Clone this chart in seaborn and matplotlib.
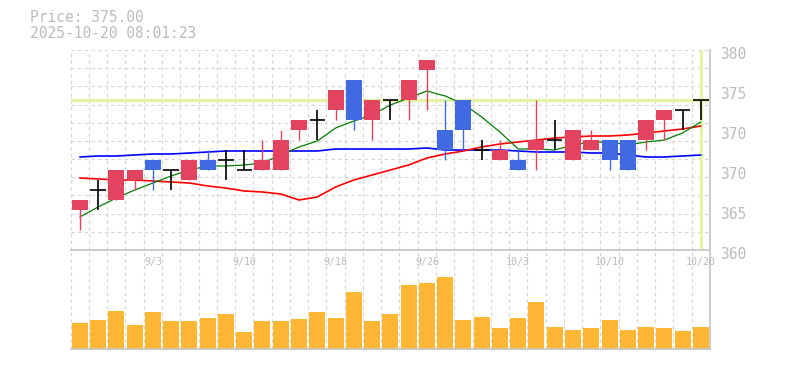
import numpy as np
import pandas as pd
import matplotlib
matplotlib.use("Agg")
import matplotlib.pyplot as plt
import matplotlib.transforms as mtransforms
import seaborn as sns

# 営業日
dates = ["8/28", "8/29", "9/1", "9/2", "9/3", "9/4", "9/5", "9/8", "9/9", "9/10",
         "9/11", "9/12", "9/16", "9/17", "9/18", "9/19", "9/22", "9/24", "9/25", "9/26",
         "9/29", "9/30", "10/1", "10/2", "10/3", "10/6", "10/7", "10/8", "10/9", "10/10",
         "10/14", "10/15", "10/16", "10/17", "10/20"]
shown_dates = ["9/3", "9/10", "9/18", "9/26", "10/3", "10/10", "10/20"]

# 四本値
opens = [364, 366, 365, 367, 369, 368, 367, 369, 369, 368,
         368, 368, 372, 373, 374, 377, 373, 375, 375, 378,
         372, 375, 370, 369, 369, 370, 371, 369, 370, 371,
         371, 371, 373, 374, 375]
highs = [365, 367, 368, 368, 369, 368, 369, 370, 370, 370,
         371, 372, 373, 374, 376, 377, 375, 375, 377, 379,
         375, 375, 371, 371, 370, 375, 373, 372, 372, 371,
         371, 373, 374, 374, 375]
lows = [362, 364, 365, 366, 366, 366, 367, 368, 367, 368,
        368, 368, 371, 371, 373, 372, 371, 373, 373, 374,
        369, 370, 369, 369, 368, 368, 370, 369, 370, 368,
        368, 370, 371, 372, 373]
closes = [365, 366, 368, 368, 368, 368, 369, 368, 369, 368,
          369, 371, 373, 373, 376, 373, 375, 375, 377, 379,
          370, 372, 370, 370, 368, 371, 371, 372, 371, 369,
          368, 373, 374, 374, 375]

# 移動平均
ma_short = [363.3, 364.3, 365.2, 366.0, 366.7, 367.4, 368.0, 368.4, 368.4, 368.5,
            368.7, 369.5, 370.3, 370.9, 372.2, 372.9, 373.5, 374.5, 375.2, 375.9,
            375.4, 374.6, 373.3, 371.8, 370.1, 370.1, 370.0, 370.5, 370.8, 370.8,
            370.5, 370.8, 371.0, 371.7, 372.8]
ma_mid = [367.2, 367.1, 367.0, 367.0, 366.9, 366.8, 366.7, 366.4, 366.2, 365.9,
          365.8, 365.6, 365.0, 365.3, 366.3, 367.0, 367.5, 368.0, 368.5, 369.2,
          369.6, 369.9, 370.3, 370.6, 370.8, 371.0, 371.2, 371.3, 371.4, 371.4,
          371.5, 371.7, 371.9, 372.1, 372.4]
ma_long = [369.3, 369.4, 369.4, 369.5, 369.6, 369.6, 369.7, 369.8, 369.9, 369.9,
           369.9, 369.9, 369.9, 369.9, 370.1, 370.1, 370.1, 370.1, 370.1, 370.2,
           370.0, 370.0, 370.0, 370.0, 369.9, 369.8, 369.8, 369.8, 369.7, 369.7,
           369.5, 369.3, 369.3, 369.4, 369.5]

# 出来高（相対値）
volume = [26.3, 29.3, 38.0, 24.0, 37.0, 28.3, 28.3, 31.3, 35.3, 17.3,
          28.3, 28.3, 30.3, 37.0, 31.3, 57.3, 28.3, 35.3, 64.3, 66.3,
          72.3, 29.3, 32.3, 21.3, 31.3, 47.3, 22.3, 19.3, 21.3, 29.3,
          19.3, 22.3, 21.3, 18.3, 22.3]

price_ticks = [360, 364, 368, 372, 376, 380]
price_labels = ["360", "365", "370", "370", "375", "380"]
timestamp = "2025-10-20 08:01:23"

df = pd.DataFrame({"idx": np.arange(len(dates)), "date": dates, "open": opens,
                   "high": highs, "low": lows, "close": closes, "volume": volume,
                   "ma_s": ma_short, "ma_m": ma_mid, "ma_l": ma_long})

sns.set_style("white")
plt.rcParams["font.family"] = ["DejaVu Sans Mono"]

UP = "#e2435f"
DOWN = "#4169e1"
LIME = "#e2f4a8"
GRID = "#d4d4d4"
FRAME = "#c4c4c4"
TXT = "#bbbbbb"

W, H = 785, 370
fig = plt.figure(figsize=(W / 100, H / 100), dpi=100)


def rect(x0, y0, x1, y1):
    return [x0 / W, 1 - y1 / H, (x1 - x0) / W, (y1 - y0) / H]


ax = fig.add_axes(rect(70.7, 50, 710, 250))
axv = fig.add_axes(rect(70.7, 250, 710, 349))
ax.set_zorder(2)

n = len(df)
edges = np.arange(n + 1) - 0.5

# --- 価格パネル ---
grid_levels = np.linspace(360, 380, 12)
ax.hlines(grid_levels[1:], -0.5, n - 0.5, colors=GRID, linestyles=(0, (3, 3)), lw=0.8, zorder=0)
ax.vlines(edges[:-1], 360, 380, colors=GRID, linestyles=(0, (3, 3)), lw=0.8, zorder=0)

last = df["close"].iloc[-1]
ax.axhline(last, color=LIME, lw=2.4, zorder=1)
ax.axvline(n - 1, color=LIME, lw=2.4, zorder=1)

sns.lineplot(data=df, x="idx", y="ma_l", ax=ax, color="#0000ff", lw=1.2, zorder=2)
sns.lineplot(data=df, x="idx", y="ma_m", ax=ax, color="#ff0000", lw=1.2, zorder=2)
sns.lineplot(data=df, x="idx", y="ma_s", ax=ax, color="#008000", lw=0.9, zorder=2)

up = df["close"] > df["open"]
down = df["close"] < df["open"]
doji = df["close"] == df["open"]
wick_colors = np.where(up, UP, np.where(down, DOWN, "black"))
wick_lw = np.where(doji, 1.2, 1.0)
ax.vlines(df["idx"], df["low"], df["high"], colors=wick_colors, lw=wick_lw, zorder=3)

body = ~doji
ax.bar(df["idx"][body], (df["close"] - df["open"]).abs()[body],
       bottom=df[["open", "close"]].min(axis=1)[body], width=0.875,
       color=np.where(up, UP, DOWN)[body], lw=0, zorder=4)
dj = df[doji]
ax.hlines(dj["close"], dj["idx"] - 0.42, dj["idx"] + 0.42, colors="black", lw=1.2, zorder=4)

ax.set_xlim(-0.5, n - 0.5)
ax.set_ylim(360, 380)
ax.set_xlabel("")
ax.set_ylabel("")

ax.yaxis.tick_right()
ax.set_yticks(price_ticks, price_labels)
ax.tick_params(axis="y", length=0, pad=7, labelsize=10.5, labelcolor=TXT)
shift = mtransforms.ScaledTranslation(0, -3 / 100, fig.dpi_scale_trans)
for lbl in ax.get_yticklabels():
    lbl.set_transform(lbl.get_transform() + shift)

ax.set_xticks([dates.index(d) for d in shown_dates], shown_dates)
ax.tick_params(axis="x", length=0, pad=5, labelsize=7.2, labelcolor=TXT)

for side in ["left", "top"]:
    ax.spines[side].set_visible(False)
for side in ["right", "bottom"]:
    ax.spines[side].set_color(FRAME)
    ax.spines[side].set_linewidth(1.2)

# --- 出来高パネル ---
axv.vlines(edges[:-1], 0, 99, colors=GRID, linestyles=(0, (3, 3)), lw=0.8, zorder=0)
sns.barplot(data=df, x="idx", y="volume", ax=axv, color="#ffb733", saturation=1,
            width=0.875, linewidth=0, errorbar=None, zorder=2)
axv.set_xlim(-0.5, n - 0.5)
axv.set_ylim(0, 99)
axv.set_xticks([])
axv.set_yticks([])
axv.set_xlabel("")
axv.set_ylabel("")
for side in ["left", "top"]:
    axv.spines[side].set_visible(False)
for side in ["right", "bottom"]:
    axv.spines[side].set_color(FRAME)
    axv.spines[side].set_linewidth(1.2)

fig.text(30 / W, 1 - 17.3 / H, f"Price: {last:.2f}", fontsize=10.5, color=TXT, va="center")
fig.text(30 / W, 1 - 33.3 / H, timestamp, fontsize=10.5, color=TXT, va="center")

fig.savefig("out.png", dpi=100)
